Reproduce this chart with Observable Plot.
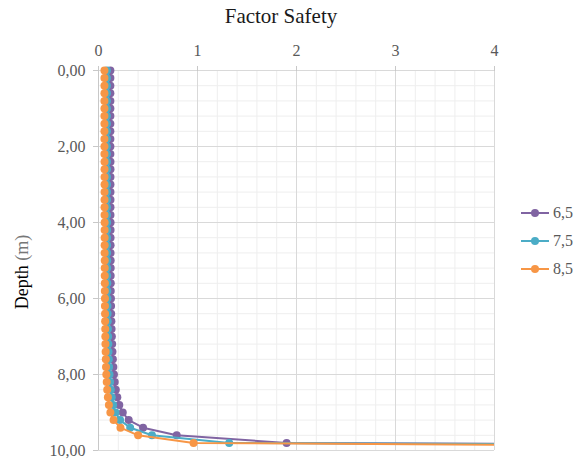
<!DOCTYPE html>
<html><head><meta charset="utf-8">
<script src="https://cdn.jsdelivr.net/npm/d3@7"></script>
<script src="https://cdn.jsdelivr.net/npm/@observablehq/plot@0.6"></script>
<style>
body{margin:0;background:#fff;}
#wrap{position:relative;width:584px;height:464px;font-family:"Liberation Serif","DejaVu Serif",serif;overflow:hidden;}
#title{position:absolute;left:0;width:562px;top:4px;text-align:center;font-size:21px;color:#1a1a1a;}
#ylab{position:absolute;left:-78px;top:260px;width:200px;height:24px;line-height:24px;text-align:center;font-size:18px;transform:rotate(-90deg);white-space:nowrap;}
#legend{position:absolute;left:519px;top:199px;font-size:16px;color:#595959;}
.item{height:28px;display:flex;align-items:center;}
.item span{margin-left:2px;}
</style></head><body>
<div id="wrap"><div id="chart"></div><div id="title">Factor Safety</div>
<div id="ylab"><span style="color:#000">Depth</span> <span style="color:#777">(m)</span></div>
<div id="legend"></div></div>
<script>
const depths = [0.0,0.2,0.4,0.6,0.8,1.0,1.2,1.4,1.6,1.8,2.0,2.2,2.4,2.6,2.8,3.0,3.2,3.4,3.6,3.8,4.0,4.2,4.4,4.6,4.8,5.0,5.2,5.4,5.6,5.8,6.0,6.2,6.4,6.6,6.8,7.0,7.2,7.4,7.6,7.8,8.0,8.2,8.4,8.6,8.8,9.0,9.2,9.4,9.6,9.8,10.0];
const fs65 = [0.120,0.120,0.120,0.120,0.120,0.120,0.120,0.120,0.120,0.120,0.120,0.120,0.121,0.121,0.121,0.121,0.121,0.121,0.121,0.121,0.122,0.122,0.122,0.122,0.122,0.123,0.123,0.123,0.124,0.124,0.126,0.127,0.128,0.130,0.132,0.135,0.138,0.141,0.145,0.150,0.156,0.164,0.175,0.190,0.210,0.245,0.305,0.450,0.790,1.900,23];
const fs75 = [0.085,0.085,0.085,0.085,0.085,0.085,0.085,0.085,0.085,0.085,0.085,0.085,0.086,0.086,0.086,0.086,0.086,0.086,0.086,0.086,0.087,0.087,0.087,0.087,0.087,0.088,0.088,0.088,0.089,0.089,0.090,0.091,0.092,0.093,0.095,0.097,0.099,0.101,0.104,0.107,0.111,0.117,0.124,0.134,0.148,0.172,0.218,0.320,0.540,1.320,19];
const fs85 = [0.060,0.060,0.060,0.060,0.060,0.060,0.060,0.060,0.060,0.060,0.060,0.060,0.061,0.061,0.061,0.061,0.061,0.061,0.061,0.061,0.062,0.062,0.062,0.062,0.062,0.063,0.063,0.063,0.064,0.064,0.065,0.065,0.066,0.067,0.068,0.069,0.070,0.072,0.074,0.076,0.079,0.083,0.088,0.095,0.105,0.120,0.152,0.222,0.400,0.960,13];
const seriesNames = ["6,5","7,5","8,5"];
const colors = ["#8064A2","#4BACC6","#F79646"];
const xTicks = [0,1,2,3,4];
const yTicks = [0,2,4,6,8,10];
const xMinor = d3.range(0, 4.0001, 0.2);
const yMinor = d3.range(0, 10.0001, 0.4);

const allFs = [fs65, fs75, fs85];
const seriesData = seriesNames.map((s,i)=>depths.map((d,j)=>({series:s, depth:d, fs:allFs[i][j]})));

const marks = [
  Plot.ruleX(xMinor, {stroke:"#eeeeee", strokeWidth:1}),
  Plot.ruleY(yMinor, {stroke:"#eeeeee", strokeWidth:1}),
  Plot.ruleX(xTicks, {stroke:"#d9d9d9", strokeWidth:1}),
  Plot.ruleY(yTicks, {stroke:"#d9d9d9", strokeWidth:1}),
  Plot.ruleX([0], {stroke:"#c8c8c8"}),
  Plot.axisX({anchor:"top", ticks:xTicks, tickSize:5, tickPadding:10, tickFormat:d=>String(d), stroke:"#c8c8c8", fill:"#595959", label:null}),
  Plot.axisY({ticks:yTicks, tickSize:5, tickPadding:8, tickFormat:d=>d.toFixed(2).replace(".", ","), stroke:"#c8c8c8", fill:"#595959", label:null})
];
seriesData.forEach((data,i)=>{
  marks.push(Plot.line(data, {x:"fs", y:"depth", stroke:colors[i], strokeWidth:2, clip:true}));
  marks.push(Plot.dot(data.filter(d=>d.fs<=4), {x:"fs", y:"depth", r:4, fill:colors[i], stroke:"none"}));
});

const chart = Plot.plot({
  width:584, height:464,
  marginLeft:98, marginRight:90, marginTop:70, marginBottom:14,
  x:{domain:[0,4]},
  y:{domain:[0,10], reverse:true},
  style:{fontFamily:'"Liberation Serif","DejaVu Serif",serif', fontSize:"16px", background:"transparent"},
  marks
});
document.getElementById("chart").appendChild(chart);

const leg = document.getElementById("legend");
seriesNames.forEach((s,i)=>{
  const div = document.createElement("div");
  div.className = "item";
  div.innerHTML = `<svg width="32" height="10"><line x1="2" x2="30" y1="5" y2="5" stroke="${colors[i]}" stroke-width="2"/><circle cx="16" cy="5" r="4" fill="${colors[i]}"/></svg><span>${s}</span>`;
  leg.appendChild(div);
});
</script>
</body></html>
